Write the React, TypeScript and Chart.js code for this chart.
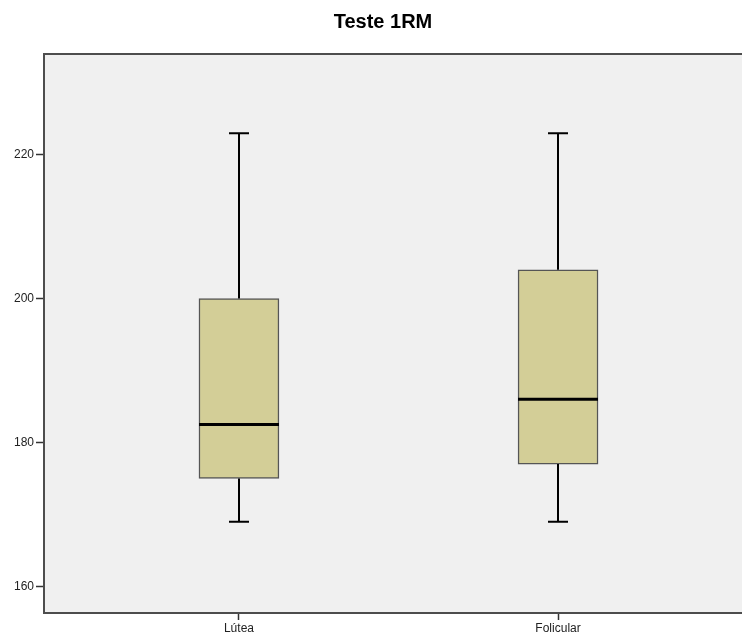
import React, { useEffect, useRef } from "react";
import { Chart, registerables } from "chart.js";
Chart.register(...registerables);

const title = "Teste 1RM";
const categories = ["Lútea", "Folicular"];
const minValues = [169, 169];
const q1Values = [175, 177];
const medianValues = [182.5, 186];
const q3Values = [200, 204];
const maxValues = [223, 223];
const yTicks = [160, 180, 200, 220];

const FONT = "'Liberation Sans', Arial, sans-serif";

export default function App() {
  const ref = useRef<HTMLCanvasElement>(null);

  useEffect(() => {
    const canvas = ref.current;
    if (!canvas) return;

    const framePlugin = {
      id: "plotFrame",
      beforeDraw(chart: any) {
        const { ctx, chartArea: a } = chart;
        ctx.save();
        ctx.fillStyle = "#F0F0F0";
        ctx.fillRect(a.left, a.top, a.right - a.left, a.bottom - a.top);
        ctx.restore();
      },
      afterDraw(chart: any) {
        const { ctx, chartArea: a } = chart;
        ctx.save();
        ctx.strokeStyle = "#4d4d4d";
        ctx.lineWidth = 2;
        ctx.strokeRect(a.left, a.top, a.right - a.left, a.bottom - a.top);
        ctx.restore();
      },
    };

    const whiskerPlugin = {
      id: "boxWhiskers",
      afterDatasetsDraw(chart: any) {
        const { ctx } = chart;
        const xs = chart.scales.x;
        const ys = chart.scales.y;
        const meta = chart.getDatasetMeta(0);
        ctx.save();
        ctx.strokeStyle = "#000";
        categories.forEach((_, i) => {
          const cx = Math.round(xs.getPixelForValue(i));
          const bar: any = meta.data[i];
          const half = bar ? bar.width / 2 : 40;
          const yMin = ys.getPixelForValue(minValues[i]);
          const yQ1 = ys.getPixelForValue(q1Values[i]);
          const yMed = ys.getPixelForValue(medianValues[i]);
          const yQ3 = ys.getPixelForValue(q3Values[i]);
          const yMax = ys.getPixelForValue(maxValues[i]);
          ctx.lineWidth = 2;
          ctx.beginPath();
          ctx.moveTo(cx, yQ3);
          ctx.lineTo(cx, yMax);
          ctx.moveTo(cx, yQ1);
          ctx.lineTo(cx, yMin);
          ctx.moveTo(cx - 10, yMax);
          ctx.lineTo(cx + 10, yMax);
          ctx.moveTo(cx - 10, yMin);
          ctx.lineTo(cx + 10, yMin);
          ctx.stroke();
          ctx.lineWidth = 3;
          ctx.beginPath();
          ctx.moveTo(cx - half, yMed);
          ctx.lineTo(cx + half, yMed);
          ctx.stroke();
        });
        ctx.restore();
      },
    };

    const chart = new Chart(canvas, {
      type: "bar",
      data: {
        datasets: [
          {
            data: categories.map((_, i) => ({ x: i, y: [q1Values[i], q3Values[i]] })) as any,
            backgroundColor: "#D3CE97",
            borderColor: "#555555",
            borderWidth: 1.5,
            borderSkipped: false,
            barThickness: 80,
          },
        ],
      },
      options: {
        responsive: false,
        animation: false,
        devicePixelRatio: 1,
        layout: { padding: { left: 13, right: 13, top: 0, bottom: 0 } },
        plugins: {
          legend: { display: false },
          tooltip: { enabled: false },
          title: {
            display: true,
            text: title,
            color: "#000",
            font: { family: FONT, size: 20, weight: "bold" },
            padding: { top: 10, bottom: 20 },
          },
        },
        scales: {
          x: {
            type: "linear",
            offset: false,
            min: -0.611,
            max: 1.611,
            afterBuildTicks: (scale: any) => {
              scale.ticks = categories.map((_, i) => ({ value: i }));
            },
            afterFit: (scale: any) => {
              scale.height = 24;
            },
            ticks: {
              autoSkip: false,
              maxRotation: 0,
              padding: 1,
              color: "#222",
              font: { family: FONT, size: 12 },
              callback: (v: any) => categories[Math.round(Number(v))] ?? "",
            },
            grid: {
              display: true,
              drawOnChartArea: false,
              drawTicks: true,
              tickLength: 7,
              tickColor: "#333",
              tickWidth: 1.5,
              offset: false,
            },
            border: { display: false },
          },
          y: {
            type: "linear",
            min: 156.3,
            max: 234,
            afterBuildTicks: (scale: any) => {
              scale.ticks = yTicks.map((v) => ({ value: v }));
            },
            afterFit: (scale: any) => {
              scale.width = 31;
            },
            ticks: {
              padding: 2,
              color: "#222",
              font: { family: FONT, size: 12 },
              callback: (v: any) => String(v),
            },
            grid: {
              display: true,
              drawOnChartArea: false,
              drawTicks: true,
              tickLength: 8,
              tickColor: "#333",
              tickWidth: 1.5,
            },
            border: { display: false },
          },
        },
      },
      plugins: [framePlugin, whiskerPlugin],
    } as any);

    return () => chart.destroy();
  }, []);

  return (
    <div
      style={{
        position: "fixed",
        left: 0,
        top: 0,
        width: 742,
        height: 637,
        overflow: "hidden",
        background: "#fff",
      }}
    >
      <canvas ref={ref} width={766} height={637} style={{ display: "block" }} />
    </div>
  );
}
